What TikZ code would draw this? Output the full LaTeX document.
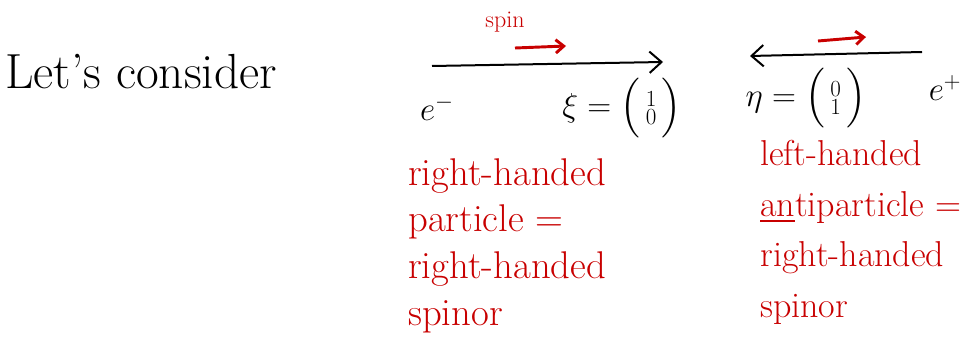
\documentclass[tikz,border=0pt]{standalone}
\usepackage{amsmath}
\usepackage{tikz}
\usetikzlibrary{positioning,arrows.meta}
\definecolor{ink}{HTML}{000000}
\definecolor{pen}{HTML}{C80000}
\tikzset{
  every node/.style={inner sep=0pt},
  % --- text
  hand/.style = {text=ink, font=\fontsize{37}{42}\selectfont},
  mth/.style  = {text=ink, font=\fontsize{26}{30}\selectfont},
  tiny/.style = {text=pen, font=\fontsize{18}{20}\selectfont},
  note/.style = {text=pen, align=left, font=\fontsize{29}{35}\selectfont},
  % --- arrows
  mom/.style  = {-{Straight Barb[length=9pt,width=16pt]}, line width=1.5pt, draw=ink},
  spn/.style  = {-{Straight Barb[length=6pt,width=10pt]}, line width=2.2pt, draw=pen},
}

\begin{document}
\begin{tikzpicture}[x=0.75pt,y=-0.75pt]
  \useasboundingbox (0,0) rectangle (973,349);
  \node[hand, anchor=west] (lets) at (5,72) {Let's consider};

  % electron, moving right
  \coordinate (etail) at (432,66);
  \coordinate (ehead) at (663,62);
  \draw[mom] (etail) -- (ehead);
  \node[tiny] (spinlbl) at (505,22) {spin};
  \coordinate (es1) at (515,48);
  \coordinate (es2) at (566,46);
  \draw[spn] (es1) -- (es2);
  \node[mth] (eminus) at (437,108) {$e^-$};
  \node[mth] (xi) at (622,108) {$\xi=\Bigl(\begin{smallmatrix}1\\0\end{smallmatrix}\Bigr)$};
  \node[note, anchor=north west] (rhs) at (408,158)
    {right-handed\\particle =\\right-handed\\spinor};

  % positron, moving left
  \coordinate (ptail) at (922,52);
  \coordinate (phead) at (750,56);
  \draw[mom] (ptail) -- (phead);
  \coordinate (ps1) at (818,41);
  \coordinate (ps2) at (866,37);
  \draw[spn] (ps1) -- (ps2);
  \node[mth] (eta) at (806,98) {$\eta=\Bigl(\begin{smallmatrix}0\\1\end{smallmatrix}\Bigr)$};
  \node[mth] (eplus) at (945,88) {$e^+$};
  \node[note, anchor=north west, font=\fontsize{27}{38}\selectfont] (lhs) at (760,140)
    {left-handed\\\underline{an}tiparticle =\\right-handed\\spinor};
\end{tikzpicture}
\end{document}
